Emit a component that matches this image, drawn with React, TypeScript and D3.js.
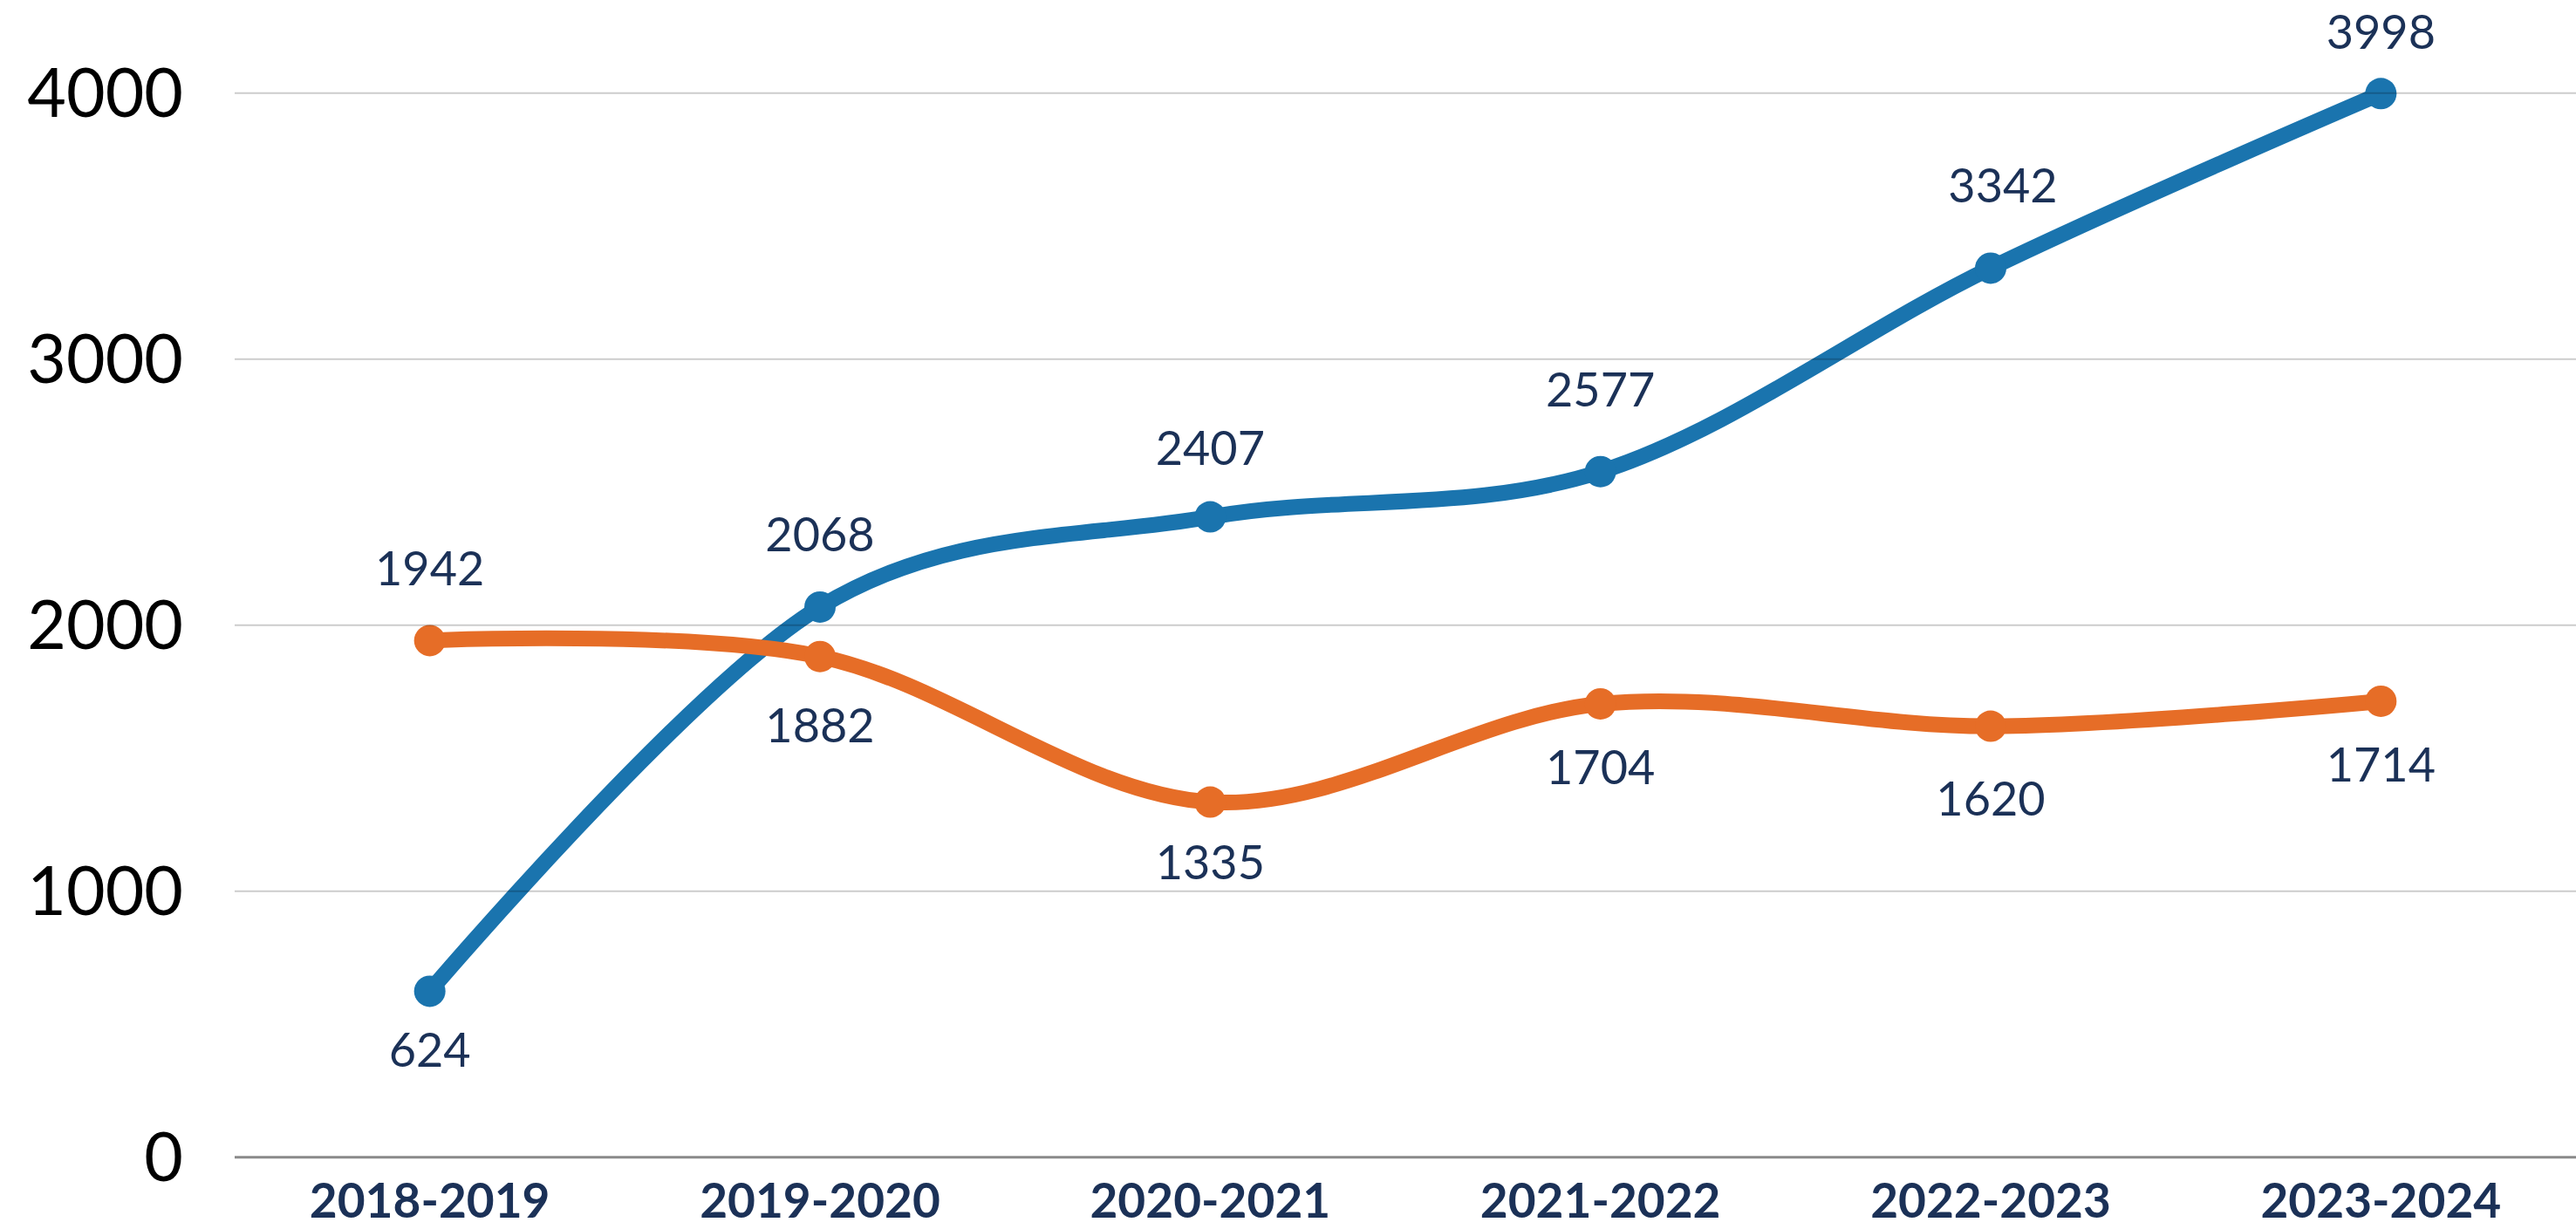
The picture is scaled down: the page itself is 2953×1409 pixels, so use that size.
import React, { useEffect } from "react";
import * as d3 from "d3";

const categories = ["2018-2019", "2019-2020", "2020-2021", "2021-2022", "2022-2023", "2023-2024"];
const blueValues = [624, 2068, 2407, 2577, 3342, 3998];
const orangeValues = [1942, 1882, 1335, 1704, 1620, 1714];
const yTicks = [0, 1000, 2000, 3000, 4000];

// label nudges (layout only)
const blueLabelDy = [67, -83, -79, -94, -95, -71];
const blueLabelDx = [0, 0, 0, 0, 14, 0];
const orangeLabelDy = [-83, 79, 69, 73, 83, 73];

const W = 2953;
const H = 1409;
const BLUE = "#1a74ae";
const ORANGE = "#e66d27";
const NAVY = "#1b3157";
const FONT = "Lato, 'Noto Sans', sans-serif";

export default function App() {
  useEffect(() => {
    document.body.style.margin = "0";
  }, []);

  const x = d3.scaleBand<string>().domain(categories).range([269, 2953]).padding(0);
  const cx = (i: number) => (x(categories[i]) as number) + x.bandwidth() / 2;
  const y = d3.scaleLinear().domain([0, 4000]).range([1326.7, 106.7]);

  const line = d3
    .line<number>()
    .x((_, i) => cx(i))
    .y((d) => y(d))
    .curve(d3.curveCardinal.tension(0));

  const series = [
    { values: blueValues, color: BLUE, dy: blueLabelDy, dx: blueLabelDx },
    { values: orangeValues, color: ORANGE, dy: orangeLabelDy, dx: orangeValues.map(() => 0) },
  ];

  return (
    <svg width={W} height={H} style={{ display: "block" }} xmlns="http://www.w3.org/2000/svg">
      <rect x={0} y={0} width={W} height={H} fill="#ffffff" />
      {series.map((s, si) => (
        <g key={si}>
          <path d={line(s.values) || ""} fill="none" stroke={s.color} strokeWidth={18} strokeLinejoin="round" />
          {s.values.map((v, i) => (
            <circle key={i} cx={cx(i)} cy={y(v)} r={18} fill={s.color} />
          ))}
        </g>
      ))}
      {yTicks.map((t) =>
        t === 0 ? null : (
          <line key={t} x1={269} x2={2953} y1={y(t)} y2={y(t)} stroke="rgba(0,0,0,0.2)" strokeWidth={2} />
        )
      )}
      <line x1={269} x2={2953} y1={y(0)} y2={y(0)} stroke="#8a8a8a" strokeWidth={3} />
      {yTicks.map((t) => (
        <text key={t} x={210} y={y(t) + 27} textAnchor="end" fontFamily={FONT} fontSize={77} fill="#000">
          {t}
        </text>
      ))}
      {categories.map((c, i) => (
        <text key={c} x={cx(i)} y={1396} textAnchor="middle" fontFamily={FONT} fontWeight={700} fontSize={55} fill={NAVY}>
          {c}
        </text>
      ))}
      {series.map((s, si) =>
        s.values.map((v, i) => (
          <text
            key={si + "-" + i}
            x={cx(i) + s.dx[i]}
            y={y(v) + s.dy[i] + 19.5}
            textAnchor="middle"
            fontFamily={FONT}
            fontSize={54}
            fill={NAVY}
          >
            {v}
          </text>
        ))
      )}
    </svg>
  );
}
